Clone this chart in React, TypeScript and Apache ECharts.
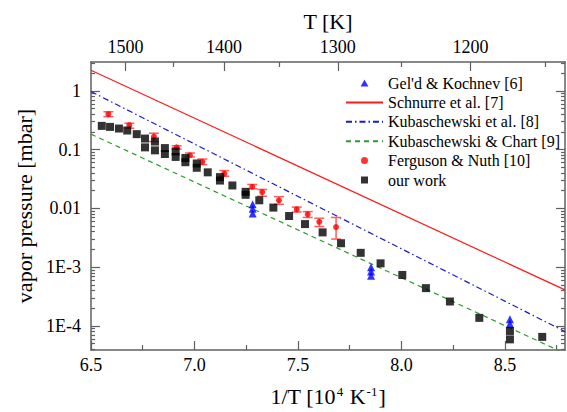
import React, { useEffect, useRef } from 'react';
import * as echarts from 'echarts';

// ---- axis ticks ----
const xMajorTicks = [6.5, 7.0, 7.5, 8.0, 8.5];
const xMinorTicks = [6.75, 7.25, 7.75, 8.25, 8.75];
const topMajorT = [1500, 1400, 1300, 1200];
const topMinorT = [1450, 1350, 1250, 1150];
const yMajorValues = [1e-4, 1e-3, 0.01, 0.1, 1];
const yMajorLabels = ['1E-4', '1E-3', '0.01', '0.1', '1'];

// ---- data (x: 1/T in 1e-4 K^-1, y: vapor pressure in mbar) ----
const geldX = [7.281, 7.281, 7.281, 7.853, 7.853, 7.853, 8.524, 8.524];
const geldY = [0.0117, 0.0098, 0.0082, 1.0e-3, 8.4e-4, 7.1e-4, 1.3e-4, 1.09e-4];

const lineX = [6.5, 8.79];
const schnurreY = [2.24, 4.1e-4];
const kubEtAlY = [0.97, 8.0e-5];
const kubChartY = [0.183, 3.4e-5];

const fergX = [6.584, 6.685, 6.804, 6.914, 6.978, 7.038, 7.144, 7.279, 7.327, 7.408, 7.494, 7.547, 7.603, 7.684];
const fergY = [0.40, 0.26, 0.167, 0.109, 0.080, 0.062, 0.039, 0.0233, 0.0189, 0.0137, 0.0096, 0.0079, 0.0059, 0.0048];
const fergLo = [0.363, 0.231, 0.137, 0.102, 0.0748, 0.0555, 0.0352, 0.0215, 0.0161, 0.0117, 0.00865, 0.0070, 0.0049, 0.0030];
const fergHi = [0.44, 0.281, 0.19, 0.116, 0.0875, 0.069, 0.0439, 0.0255, 0.021, 0.0158, 0.0105, 0.0088, 0.0068, 0.0070];

const ourX = [6.552, 6.592, 6.635, 6.675, 6.721, 6.761, 6.761, 6.809, 6.809, 6.857, 6.857, 6.909, 6.909, 6.956, 6.956, 7.011, 7.011, 7.064, 7.123, 7.123, 7.183, 7.247, 7.247, 7.313, 7.381, 7.457, 7.534, 7.619, 7.708, 7.803, 7.899, 8.004, 8.118, 8.234, 8.376, 8.524, 8.524, 8.68];
const ourY = [0.253, 0.243, 0.228, 0.211, 0.183, 0.154, 0.109, 0.137, 0.097, 0.106, 0.084, 0.093, 0.075, 0.072, 0.061, 0.058, 0.049, 0.041, 0.034, 0.0297, 0.0245, 0.0191, 0.017, 0.0137, 0.0103, 0.0074, 0.0054, 0.0039, 0.00255, 0.00175, 0.00116, 7.36e-4, 4.39e-4, 2.6e-4, 1.37e-4, 8.2e-5, 5.9e-5, 6.5e-5];

const NAMES = [
  "Gel'd & Kochnev [6]",
  'Schnurre et al. [7]',
  'Kubaschewski et al. [8]',
  'Kubaschewski & Chart [9]',
  'Ferguson & Nuth [10]',
  'our work',
];

const X_MIN = 6.5;
const X_MAX = 8.79;
const LOG_MIN = -4.41;
const LOG_MAX = 0.49;

const FONT = "'Liberation Serif', 'Times New Roman', Times, serif";
const AXIS_COLOR = '#606060';

const ICON_TRIANGLE = 'path://M5,0L10,9L0,9Z';
const ICON_CIRCLE = 'path://M0,5A5,5,0,1,0,10,5A5,5,0,1,0,0,5Z';
const ICON_SQUARE = 'path://M0,0L10,0L10,10L0,10Z';

const lg = (v: number) => Math.log10(v);

export default function App() {
  const ref = useRef<HTMLDivElement>(null);

  useEffect(() => {
    if (!ref.current) return;
    const chart = echarts.init(ref.current, null, { renderer: 'svg' });

    const yMinor: number[] = [];
    for (let k = -5; k <= 0; k++) {
      for (let m = 2; m <= 9; m++) {
        const l = lg(m * Math.pow(10, k));
        if (l > LOG_MIN && l < LOG_MAX) yMinor.push(l);
      }
    }
    const yMajorLog = yMajorValues.map(lg);
    const labelMap = (v: number) => {
      const i = yMajorLog.findIndex((t) => Math.abs(t - v) < 1e-6);
      return i >= 0 ? yMajorLabels[i] : '';
    };

    const axisLineStyle = { color: AXIS_COLOR, width: 1.5 };
    const labelStyle = { fontFamily: FONT, fontSize: 18, color: '#000' };

    const yBase = (pos: 'left' | 'right', major: boolean, withName: boolean) => ({
      type: 'value',
      position: pos,
      min: LOG_MIN,
      max: LOG_MAX,
      splitLine: { show: false },
      axisLine: { show: major, lineStyle: axisLineStyle },
      axisTick: {
        show: true,
        inside: true,
        length: major ? 9 : 4,
        lineStyle: { color: AXIS_COLOR, width: 1.2 },
        customValues: major ? yMajorLog : yMinor,
      },
      axisLabel: major && pos === 'left'
        ? { show: true, customValues: yMajorLog, formatter: labelMap, margin: 10, ...labelStyle }
        : { show: false },
      name: withName ? 'vapor pressure [mbar]' : '',
      nameLocation: 'middle',
      nameGap: 52,
      nameTextStyle: { fontFamily: FONT, fontSize: 22, color: '#000' },
    });

    const hiddenSymbol = { opacity: 0, color: 'rgba(0,0,0,0)', borderWidth: 0 };

    const option: any = {
      animation: false,
      backgroundColor: '#fff',
      textStyle: { fontFamily: FONT },
      grid: { left: 91, right: 2, top: 62, bottom: 60, containLabel: false },
      xAxis: [
        {
          type: 'value',
          position: 'bottom',
          min: X_MIN,
          max: X_MAX,
          splitLine: { show: false },
          axisLine: { show: true, onZero: false, lineStyle: axisLineStyle },
          axisTick: { show: true, inside: true, length: 9, customValues: xMajorTicks, lineStyle: { color: AXIS_COLOR, width: 1.2 } },
          axisLabel: { show: true, customValues: xMajorTicks, formatter: (v: number) => v.toFixed(1), margin: 6, ...labelStyle },
          name: '1/T [10{sup|4} K{sup|-1}]',
          nameLocation: 'middle',
          nameGap: 35,
          nameTextStyle: {
            fontFamily: FONT, fontSize: 22, color: '#000',
            rich: {
              sup: { fontFamily: FONT, fontSize: 13, color: '#000', verticalAlign: 'top', padding: [0, 1, 0, 1] },
            },
          },
        },
        {
          type: 'value',
          position: 'bottom',
          min: X_MIN,
          max: X_MAX,
          splitLine: { show: false },
          axisLine: { show: false, onZero: false },
          axisTick: { show: true, inside: true, length: 5, customValues: xMinorTicks, lineStyle: { color: AXIS_COLOR, width: 1.2 } },
          axisLabel: { show: false },
        },
        {
          type: 'value',
          position: 'top',
          min: X_MIN,
          max: X_MAX,
          splitLine: { show: false },
          axisLine: { show: true, onZero: false, lineStyle: axisLineStyle },
          axisTick: { show: true, inside: true, length: 9, customValues: topMajorT.map((t) => 1e4 / t), lineStyle: { color: AXIS_COLOR, width: 1.2 } },
          axisLabel: { show: true, customValues: topMajorT.map((t) => 1e4 / t), formatter: (v: number) => String(Math.round(1e4 / v)), margin: 6, ...labelStyle },
          name: 'T [K]',
          nameLocation: 'middle',
          nameGap: 30,
          nameTextStyle: { fontFamily: FONT, fontSize: 22, color: '#000' },
        },
        {
          type: 'value',
          position: 'top',
          min: X_MIN,
          max: X_MAX,
          splitLine: { show: false },
          axisLine: { show: false, onZero: false },
          axisTick: { show: true, inside: true, length: 5, customValues: topMinorT.map((t) => 1e4 / t), lineStyle: { color: AXIS_COLOR, width: 1.2 } },
          axisLabel: { show: false },
        },
      ],
      yAxis: [
        yBase('left', true, true),
        yBase('left', false, false),
        yBase('right', true, false),
        yBase('right', false, false),
      ],
      legend: {
        data: [
          { name: NAMES[0], icon: ICON_TRIANGLE },
          { name: NAMES[1], itemStyle: hiddenSymbol },
          { name: NAMES[2], itemStyle: hiddenSymbol },
          { name: NAMES[3], itemStyle: hiddenSymbol },
          { name: NAMES[4], icon: ICON_CIRCLE },
          { name: NAMES[5], icon: ICON_SQUARE },
        ],
        orient: 'vertical',
        left: 345,
        top: 75,
        padding: 0,
        itemWidth: 37,
        itemHeight: 7,
        itemGap: 3.4,
        symbolKeepAspect: true,
        selectedMode: false,
        textStyle: { fontFamily: FONT, fontSize: 16, color: '#000', lineHeight: 16 },
      },
      series: [
        {
          name: NAMES[0],
          type: 'scatter',
          symbol: 'triangle',
          symbolSize: 8,
          itemStyle: { color: '#0000ff' },
          z: 4,
          data: geldX.map((x, i) => [x, lg(geldY[i])]),
        },
        {
          name: NAMES[1],
          type: 'line',
          symbol: 'none',
          lineStyle: { color: '#ff1a1a', width: 1.2, type: 'solid' },
          itemStyle: { color: '#ff1a1a' },
          z: 2,
          data: lineX.map((x, i) => [x, lg(schnurreY[i])]),
        },
        {
          name: NAMES[2],
          type: 'line',
          symbol: 'none',
          lineStyle: { color: '#1a1acc', width: 1.2, type: [6, 3, 1.5, 3] },
          itemStyle: { color: '#1a1acc' },
          z: 2,
          data: lineX.map((x, i) => [x, lg(kubEtAlY[i])]),
        },
        {
          name: NAMES[3],
          type: 'line',
          symbol: 'none',
          lineStyle: { color: '#2a9a2a', width: 1.2, type: [5, 4] },
          itemStyle: { color: '#2a9a2a' },
          z: 2,
          data: lineX.map((x, i) => [x, lg(kubChartY[i])]),
        },
        {
          name: 'fergErr',
          type: 'custom',
          z: 3,
          encode: { x: 0, y: [1, 2] },
          renderItem: (params: any, api: any) => {
            const x = api.value(0);
            const a = api.coord([x, api.value(1)]);
            const b = api.coord([x, api.value(2)]);
            const w = 5;
            const style = { stroke: '#ff5c5c', lineWidth: 1.5 };
            return {
              type: 'group',
              children: [
                { type: 'line', shape: { x1: a[0], y1: a[1], x2: b[0], y2: b[1] }, style },
                { type: 'line', shape: { x1: a[0] - w, y1: a[1], x2: a[0] + w, y2: a[1] }, style },
                { type: 'line', shape: { x1: b[0] - w, y1: b[1], x2: b[0] + w, y2: b[1] }, style },
              ],
            };
          },
          data: fergX.map((x, i) => [x, lg(fergLo[i]), lg(fergHi[i])]),
        },
        {
          name: NAMES[4],
          type: 'scatter',
          symbol: 'circle',
          symbolSize: 6,
          itemStyle: { color: '#ff0000' },
          z: 4,
          data: fergX.map((x, i) => [x, lg(fergY[i])]),
        },
        {
          name: NAMES[5],
          type: 'scatter',
          symbol: 'rect',
          symbolSize: 8,
          itemStyle: { color: '#000000' },
          z: 5,
          data: ourX.map((x, i) => [x, lg(ourY[i])]),
        },
      ],
    };

    chart.setOption(option);
    return () => chart.dispose();
  }, []);

  return (
    <div
      ref={ref}
      style={{ position: 'fixed', left: 0, top: 0, width: 567, height: 412, background: '#fff' }}
    />
  );
}
